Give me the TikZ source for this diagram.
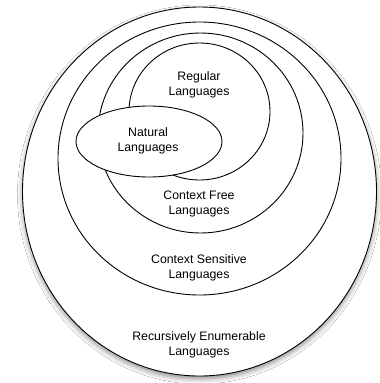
\documentclass[tikz,border=0pt]{standalone}
\usepackage{fontspec}
\setmainfont{Liberation Sans}
\usetikzlibrary{shadows.blur,shapes.geometric}
\begin{document}
\begin{tikzpicture}[x=1pt,y=-1pt,
  lbl/.style={align=center,font=\fontsize{12.3}{15}\selectfont,inner sep=0pt},
  ring/.style={draw=black,line width=0.9pt}]
\useasboundingbox (0,0) rectangle (380,383);
\fill[white] (0,0) rectangle (380,383);
\node[ring,ellipse,fill=white,minimum width=354pt,minimum height=369pt,inner sep=0pt,
  blur shadow={shadow xshift=0pt,shadow yshift=-3pt,shadow blur radius=5pt,shadow opacity=45}] (re) at (199.5,191.5) {};
\node[ring,ellipse,minimum width=283pt,minimum height=273pt,inner sep=0pt] (cs) at (199.5,158.5) {};
\node[ring,ellipse,minimum width=205pt,minimum height=200pt,inner sep=0pt] (cf) at (200.5,133) {};
\node[ring,ellipse,minimum width=141pt,minimum height=137pt,inner sep=0pt] (reg) at (199.5,111.5) {};
\node[ring,ellipse,fill=white,minimum width=146pt,minimum height=71pt,inner sep=0pt] (nat) at (149,141.5) {};
\node[lbl] (tre) at (199,344.5) {Recursively Enumerable\\Languages};
\node[lbl] (tcs) at (199,267.5) {Context Sensitive\\Languages};
\node[lbl] (tcf) at (199,204) {Context Free\\Languages};
\node[lbl] (treg) at (199,84.5) {Regular\\Languages};
\node[lbl] (tnat) at (148,140.5) {Natural\\Languages};
\end{tikzpicture}
\end{document}
